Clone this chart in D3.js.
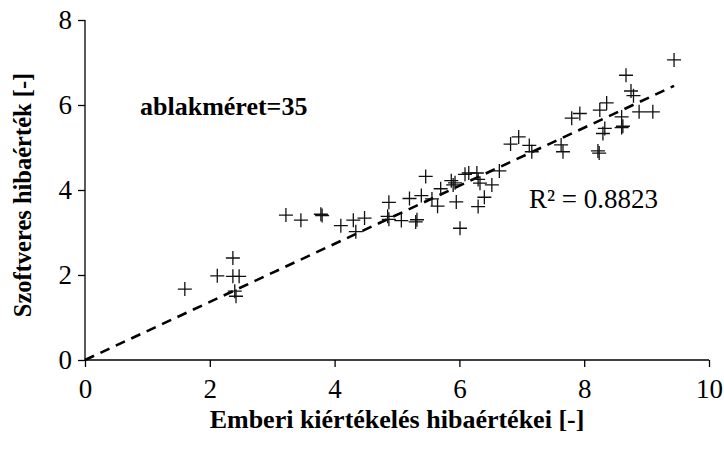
<!DOCTYPE html>
<html><head><meta charset="utf-8">
<script src="https://cdn.jsdelivr.net/npm/d3@7"></script>
<style>body{margin:0;background:#fff}svg{display:block}
svg text{font-family:"Liberation Serif","Times New Roman","DejaVu Serif",serif !important;}</style>
</head><body><svg id="c" width="724" height="450"></svg>
<script>
const xVals=[1.60,2.12,2.37,2.37,2.47,2.40,2.42,3.22,3.46,3.78,3.80,4.10,4.30,4.34,4.48,4.87,4.85,4.87,5.07,5.20,5.30,5.32,5.39,5.46,5.56,5.65,5.70,5.87,5.90,5.93,5.95,6.01,6.09,6.15,6.28,6.30,6.33,6.30,6.40,6.52,6.64,6.82,6.95,7.12,7.16,7.63,7.66,7.80,7.93,8.22,8.24,8.25,8.36,8.30,8.33,8.60,8.60,8.62,8.67,8.75,8.79,8.88,9.10,9.44];
const yVals=[1.67,1.98,2.40,1.97,1.97,1.62,1.50,3.41,3.29,3.43,3.40,3.16,3.29,3.02,3.34,3.71,3.38,3.31,3.28,3.80,3.25,3.30,3.87,4.32,3.79,3.62,4.03,4.22,4.12,4.17,3.72,3.10,4.37,4.40,4.40,4.25,4.16,3.61,3.83,4.12,4.45,5.08,5.25,5.05,4.90,5.06,4.90,5.69,5.80,4.92,4.87,5.88,6.05,5.33,5.45,5.72,5.47,5.50,6.70,6.33,6.22,5.84,5.84,7.06];
const trendX=[0,9.44];
const trendY=[0,6.45];
const xTicks=[0,2,4,6,8,10];
const yTicks=[0,2,4,6,8];
const xTitle="Emberi kiértékelés hibaértékei [-]";
const yTitle="Szoftveres hibaérték [-]";
const annot="ablakméret=35";
const r2Label="R² = 0.8823";

const svg=d3.select("#c");
const L=85,R=709,T=20,B=360;
const x=d3.scaleLinear().domain([0,10]).range([L,R]);
const y=d3.scaleLinear().domain([0,8]).range([B,T]);

const xa=svg.append("g").attr("transform",`translate(0,${B})`)
 .call(d3.axisBottom(x).tickValues(xTicks).tickSize(7).tickPadding(12).tickFormat(d3.format("d")));
const ya=svg.append("g").attr("transform",`translate(${L},0)`)
 .call(d3.axisLeft(y).tickValues(yTicks).tickSize(7).tickPadding(6).tickFormat(d3.format("d")));
[xa,ya].forEach(g=>{
 g.attr("font-family",null);
 g.select(".domain").attr("stroke","#000").attr("stroke-width",1.3);
 g.selectAll(".tick line").attr("stroke","#000").attr("stroke-width",1.3);
 g.selectAll(".tick text").attr("font-size",27).attr("fill","#000");
});
xa.select(".domain").attr("d",`M${L},0H${R}`);
ya.select(".domain").attr("d",`M0,${B}V${T}`);

// trendline
svg.append("line")
 .attr("x1",x(trendX[0])).attr("y1",y(trendY[0]))
 .attr("x2",x(trendX[1])).attr("y2",y(trendY[1]))
 .attr("stroke","#000").attr("stroke-width",2.6).attr("stroke-dasharray","10,7");

// points
const s=7;
const pts=svg.append("g");
xVals.forEach((xv,i)=>{
 const cx=x(xv),cy=y(yVals[i]);
 pts.append("path").attr("d",`M${cx-s},${cy}H${cx+s}M${cx},${cy-s}V${cy+s}`)
  .attr("stroke","#111").attr("stroke-width",1.3).attr("fill","none");
});

svg.append("text").attr("x",(L+R)/2).attr("y",428).attr("text-anchor","middle")
 .attr("font-weight","bold").attr("font-size",26).text(xTitle);
svg.append("text").attr("transform",`translate(31,195) rotate(-90)`).attr("text-anchor","middle")
 .attr("font-weight","bold").attr("font-size",24.5).text(yTitle);
svg.append("text").attr("x",140).attr("y",115)
 .attr("font-weight","bold").attr("font-size",26).text(annot);
svg.append("text").attr("x",529).attr("y",208)
 .attr("font-size",27).text(r2Label);
</script></body></html>
